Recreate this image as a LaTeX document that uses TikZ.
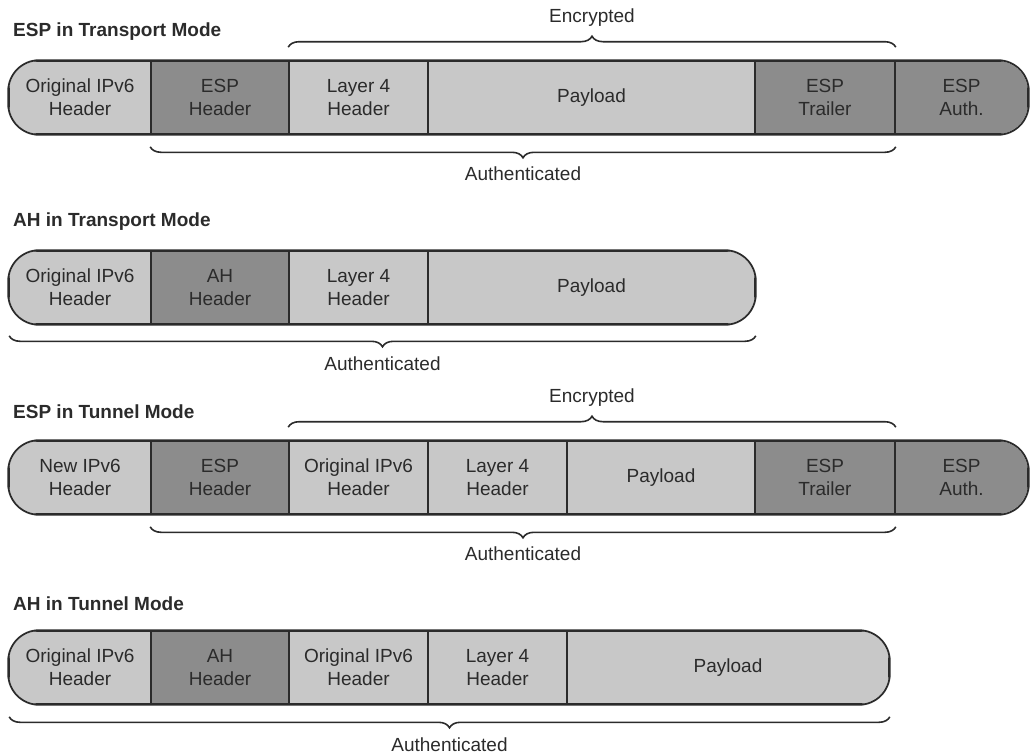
\documentclass[tikz,border=0pt]{standalone}
\usepackage{fontspec}
\setmainfont{Liberation Sans}
\usetikzlibrary{decorations.pathreplacing}
\definecolor{lightseg}{HTML}{C8C8C8}
\definecolor{darkseg}{HTML}{8C8C8C}
\definecolor{ink}{HTML}{2B2B2B}
\begin{document}
\begin{tikzpicture}[x=1pt,y=-1pt,
  seg/.style={draw=ink, line width=1.6pt, minimum height=73pt, inner sep=0pt,
    align=center, text=ink, font=\fontsize{19}{23}\selectfont},
  lt/.style={seg, fill=lightseg},
  dk/.style={seg, fill=darkseg},
  bar/.style={draw=ink, line width=1.8pt, rounded corners=31pt},
  title/.style={anchor=west, text=ink, inner sep=0pt, font=\bfseries\fontsize{19}{23}\selectfont},
  lbl/.style={text=ink, inner sep=0pt, font=\fontsize{19}{23}\selectfont},
  brc/.style={draw=ink, line width=1.6pt, decorate, decoration={brace, amplitude=11pt}}]
\useasboundingbox (0,0) rectangle (1030,755);

% ---------------- Row 1: ESP in Transport Mode
\node[title] (t1) at (13,32) {ESP in Transport Mode};
\begin{scope}
\clip[rounded corners=31pt] (9,61) rectangle (1028,134);
\node[lt, minimum width=142pt] (a1) at (80,97.5) {Original IPv6\\Header};
\node[dk, minimum width=138pt] (a2) at (220,97.5) {ESP\\Header};
\node[lt, minimum width=139pt] (a3) at (358.5,97.5) {Layer 4\\Header};
\node[lt, minimum width=327pt] (a4) at (591.5,97.5) {Payload};
\node[dk, minimum width=140pt] (a5) at (825,97.5) {ESP\\Trailer};
\node[dk, minimum width=133pt] (a6) at (961.5,97.5) {ESP\\Auth.};
\end{scope}
\draw[bar] (a1.north west) rectangle (a6.south east);
\draw[brc] ([yshift=13pt]a3.north west) -- ([yshift=13pt]a5.north east)
  node[lbl, midway, yshift=30pt] (e1) {Encrypted};
\draw[brc] ([yshift=-12pt]a5.south east) -- ([yshift=-12pt]a2.south west)
  node[lbl, midway, yshift=-27pt] (u1) {Authenticated};

% ---------------- Row 2: AH in Transport Mode
\node[title] (t2) at (13,222) {AH in Transport Mode};
\begin{scope}
\clip[rounded corners=31pt] (9,251) rectangle (755,324);
\node[lt, minimum width=142pt] (b1) at (80,287.5) {Original IPv6\\Header};
\node[dk, minimum width=138pt] (b2) at (220,287.5) {AH\\Header};
\node[lt, minimum width=139pt] (b3) at (358.5,287.5) {Layer 4\\Header};
\node[lt, minimum width=327pt] (b4) at (591.5,287.5) {Payload};
\end{scope}
\draw[bar] (b1.north west) rectangle (b4.south east);
\draw[brc] ([yshift=-11pt]b4.south east) -- ([xshift=1pt,yshift=-11pt]b1.south west)
  node[lbl, midway, yshift=-28pt] (u2) {Authenticated};

% ---------------- Row 3: ESP in Tunnel Mode
\node[title] (t3) at (13,412) {ESP in Tunnel Mode};
\begin{scope}
\clip[rounded corners=31pt] (9,441) rectangle (1028,514);
\node[lt, minimum width=142pt] (c1) at (80,477.5) {New IPv6\\Header};
\node[dk, minimum width=138pt] (c2) at (220,477.5) {ESP\\Header};
\node[lt, minimum width=139pt] (c3) at (358.5,477.5) {Original IPv6\\Header};
\node[lt, minimum width=139pt] (c4) at (497.5,477.5) {Layer 4\\Header};
\node[lt, minimum width=188pt] (c5) at (661,477.5) {Payload};
\node[dk, minimum width=140pt] (c6) at (825,477.5) {ESP\\Trailer};
\node[dk, minimum width=133pt] (c7) at (961.5,477.5) {ESP\\Auth.};
\end{scope}
\draw[bar] (c1.north west) rectangle (c7.south east);
\draw[brc] ([yshift=13pt]c3.north west) -- ([yshift=13pt]c6.north east)
  node[lbl, midway, yshift=30pt] (e3) {Encrypted};
\draw[brc] ([yshift=-12pt]c6.south east) -- ([yshift=-12pt]c2.south west)
  node[lbl, midway, yshift=-27pt] (u3) {Authenticated};

% ---------------- Row 4: AH in Tunnel Mode
\node[title] (t4) at (13,604) {AH in Tunnel Mode};
\begin{scope}
\clip[rounded corners=31pt] (9,631) rectangle (889,704);
\node[lt, minimum width=142pt] (d1) at (80,667.5) {Original IPv6\\Header};
\node[dk, minimum width=138pt] (d2) at (220,667.5) {AH\\Header};
\node[lt, minimum width=139pt] (d3) at (358.5,667.5) {Original IPv6\\Header};
\node[lt, minimum width=139pt] (d4) at (497.5,667.5) {Layer 4\\Header};
\node[lt, minimum width=322pt] (d5) at (728,667.5) {Payload};
\end{scope}
\draw[bar] (d1.north west) rectangle (d5.south east);
\draw[brc] ([yshift=-12pt]d5.south east) -- ([xshift=1pt,yshift=-12pt]d1.south west)
  node[lbl, midway, yshift=-28pt] (u4) {Authenticated};
\end{tikzpicture}
\end{document}
